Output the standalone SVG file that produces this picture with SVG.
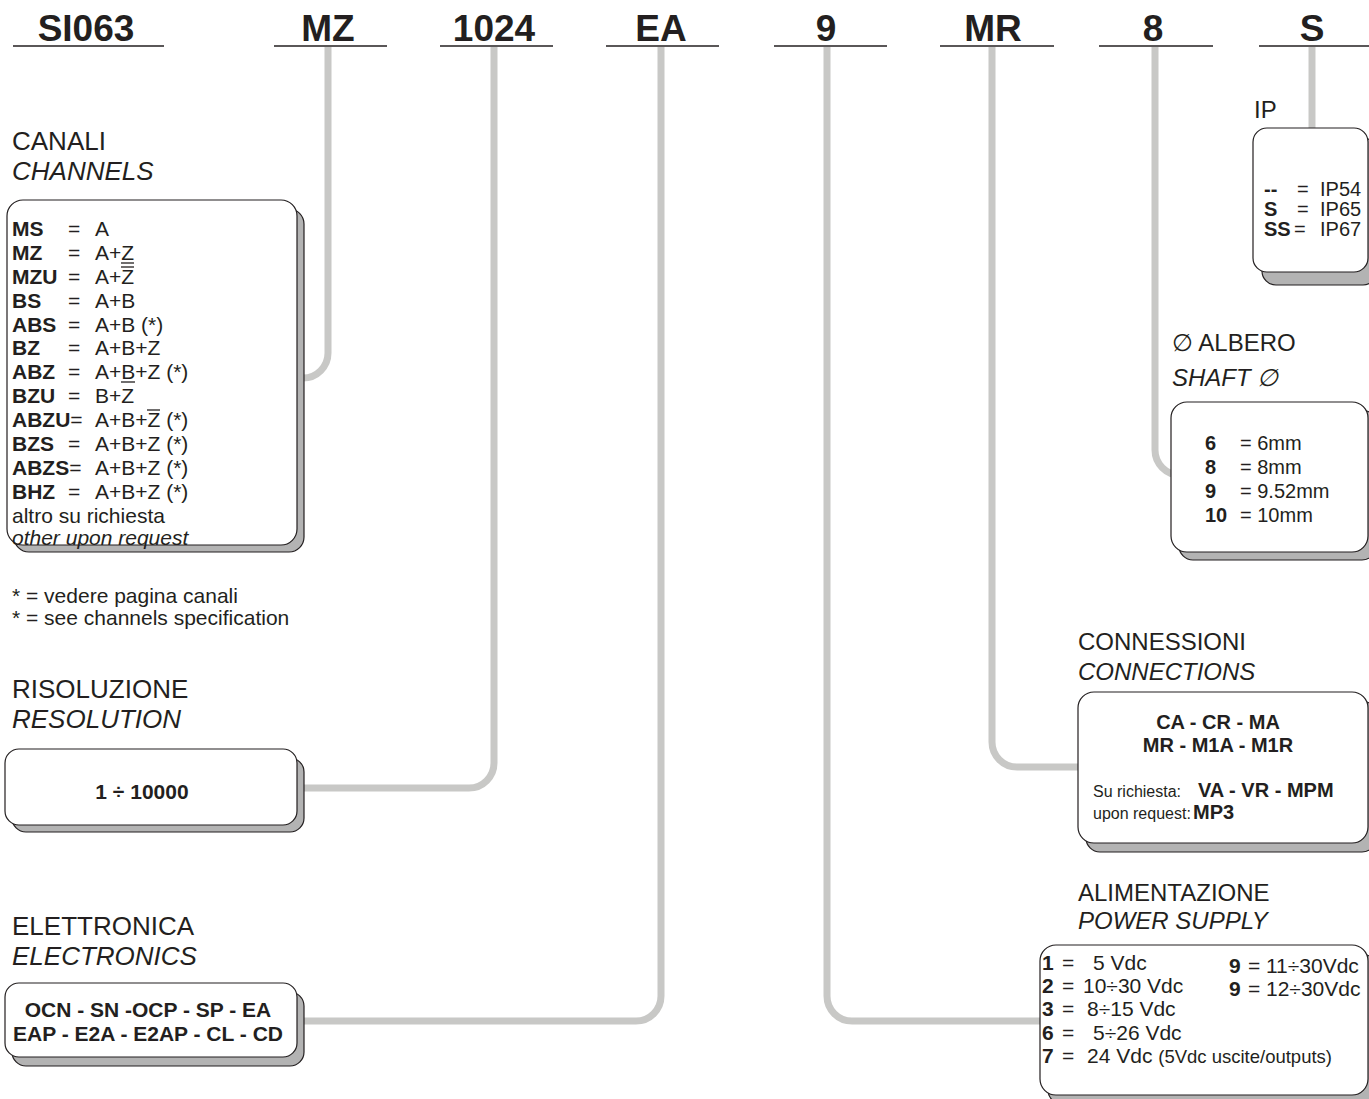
<svg xmlns="http://www.w3.org/2000/svg" width="1369" height="1099" viewBox="0 0 1369 1099">
<style>
text{font-family:"Liberation Sans",Arial,sans-serif;fill:#231f20}
.h{font-size:37px;font-weight:bold;text-anchor:middle}
.hl{stroke:#231f20;stroke-width:1.5}
.lab{font-size:24px}
.labl{font-size:26px}
.it{font-style:italic}
.t{font-size:20px}
.tl{font-size:21px}
.tp{font-size:21px}
.b{font-weight:bold}
.s{font-size:16px}
.sp{font-size:18.5px}
.box{fill:#fff;stroke:#231f20;stroke-width:1.2}
.sh{fill:#b3b3b3;stroke:#231f20;stroke-width:1.2}
.con{fill:none;stroke:#c8c8c6;stroke-width:7}
.dec{stroke:#231f20;stroke-width:1.3}
</style>
<g id="header">
<text class="h" x="86" y="41">SI063</text><line class="hl" x1="13" y1="46" x2="164" y2="46"/>
<text class="h" x="328" y="41">MZ</text><line class="hl" x1="274" y1="46" x2="387" y2="46"/>
<text class="h" x="494" y="41">1024</text><line class="hl" x1="440" y1="46" x2="553" y2="46"/>
<text class="h" x="661" y="41">EA</text><line class="hl" x1="606" y1="46" x2="719" y2="46"/>
<text class="h" x="826" y="41">9</text><line class="hl" x1="774" y1="46" x2="887" y2="46"/>
<text class="h" x="993" y="41">MR</text><line class="hl" x1="940" y1="46" x2="1054" y2="46"/>
<text class="h" x="1153" y="41">8</text><line class="hl" x1="1099" y1="46" x2="1213" y2="46"/>
<text class="h" x="1312" y="41">S</text><line class="hl" x1="1259" y1="46" x2="1369" y2="46"/>
</g>
<g id="connectors">
<path class="con" d="M328 47 V353 A25 25 0 0 1 303 378 H300"/>
<path class="con" d="M494 47 V763 A25 25 0 0 1 469 788 H300"/>
<path class="con" d="M661 47 V996 A25 25 0 0 1 636 1021 H300"/>
<path class="con" d="M827 47 V996 A25 25 0 0 0 852 1021 H1042"/>
<path class="con" d="M992 47 V742 A25 25 0 0 0 1017 767 H1080"/>
<path class="con" d="M1155 47 V450 A25 25 0 0 0 1180 475 H1173"/>
<path class="con" d="M1312 47 V129"/>
</g>
<g id="channels">
<text class="labl" x="12" y="150">CANALI</text>
<text class="labl it" x="12" y="180">CHANNELS</text>
<rect class="sh" x="14" y="209" width="290" height="343" rx="15"/>
<rect class="box" x="7" y="200" width="290" height="345" rx="16"/>
<g class="tl">
<text x="12" y="236"><tspan class="b">MS</tspan></text><text x="68" y="236">=</text><text x="95" y="236">A</text>
<text x="12" y="260"><tspan class="b">MZ</tspan></text><text x="68" y="260">=</text><text x="95" y="260">A+Z</text>
<text x="12" y="284"><tspan class="b">MZU</tspan></text><text x="68" y="284">=</text><text x="95" y="284">A+Z</text>
<text x="12" y="308"><tspan class="b">BS</tspan></text><text x="68" y="308">=</text><text x="95" y="308">A+B</text>
<text x="12" y="332"><tspan class="b">ABS</tspan></text><text x="68" y="332">=</text><text x="95" y="332">A+B (*)</text>
<text x="12" y="355"><tspan class="b">BZ</tspan></text><text x="68" y="355">=</text><text x="95" y="355">A+B+Z</text>
<text x="12" y="379"><tspan class="b">ABZ</tspan></text><text x="68" y="379">=</text><text x="95" y="379">A+B+Z (*)</text>
<text x="12" y="403"><tspan class="b">BZU</tspan></text><text x="68" y="403">=</text><text x="95" y="403">B+Z</text>
<text x="12" y="427"><tspan class="b">ABZU</tspan>=</text><text x="95" y="427">A+B+Z (*)</text>
<text x="12" y="451"><tspan class="b">BZS</tspan></text><text x="68" y="451">=</text><text x="95" y="451">A+B+Z (*)</text>
<text x="12" y="475"><tspan class="b">ABZS</tspan>=</text><text x="95" y="475">A+B+Z (*)</text>
<text x="12" y="499"><tspan class="b">BHZ</tspan></text><text x="68" y="499">=</text><text x="95" y="499">A+B+Z (*)</text>
<text x="12" y="523">altro su richiesta</text>
<text x="12" y="545" class="it">other upon request</text>
</g>
<line class="dec" x1="121" y1="263" x2="134" y2="263"/>
<line class="dec" x1="121" y1="267" x2="134" y2="267"/>
<line class="dec" x1="121" y1="382" x2="135" y2="382"/>
<line class="dec" x1="147" y1="410" x2="160" y2="410"/>
<text class="tl" x="12" y="603">* = vedere pagina canali</text>
<text class="tl" x="12" y="625">* = see channels specification</text>
</g>
<g id="resolution">
<text class="labl" x="12" y="698">RISOLUZIONE</text>
<text class="labl it" x="12" y="728">RESOLUTION</text>
<rect class="sh" x="12" y="758" width="292" height="74" rx="14"/>
<rect class="box" x="5" y="749" width="292" height="76" rx="14"/>
<text class="tl b" x="142" y="799" text-anchor="middle">1 ÷ 10000</text>
</g>
<g id="electronics">
<text class="labl" x="12" y="935">ELETTRONICA</text>
<text class="labl it" x="12" y="965">ELECTRONICS</text>
<rect class="sh" x="12" y="992" width="292" height="74" rx="14"/>
<rect class="box" x="5" y="983" width="292" height="74" rx="14"/>
<text class="b" style="font-size:21px" x="148" y="1017" text-anchor="middle">OCN - SN -OCP - SP - EA</text>
<text class="b" style="font-size:21px" x="148" y="1041" text-anchor="middle">EAP - E2A - E2AP - CL - CD</text>
</g>
<g id="ip">
<text class="lab" x="1254" y="118">IP</text>
<rect class="sh" x="1262" y="138" width="115" height="147" rx="14"/>
<rect class="box" x="1253" y="128" width="115" height="144" rx="14"/>
<g class="t">
<text x="1264" y="196" class="b">--</text><text x="1297" y="196">=</text><text x="1320" y="196">IP54</text>
<text x="1264" y="216" class="b">S</text><text x="1297" y="216">=</text><text x="1320" y="216">IP65</text>
<text x="1264" y="236" class="b">SS</text><text x="1294" y="236">=</text><text x="1320" y="236">IP67</text>
</g>
</g>
<g id="shaft">
<text class="lab" x="1172" y="351">∅ ALBERO</text>
<text class="lab it" x="1172" y="386">SHAFT ∅</text>
<rect class="sh" x="1179" y="410" width="197" height="150" rx="14"/>
<rect class="box" x="1171" y="402" width="197" height="150" rx="16"/>
<g class="t">
<text x="1205" y="450" class="b">6</text><text x="1240" y="450">= 6mm</text>
<text x="1205" y="474" class="b">8</text><text x="1240" y="474">= 8mm</text>
<text x="1205" y="498" class="b">9</text><text x="1240" y="498">= 9.52mm</text>
<text x="1205" y="522" class="b">10</text><text x="1240" y="522">= 10mm</text>
</g>
</g>
<g id="connections">
<text class="lab" x="1078" y="650">CONNESSIONI</text>
<text class="lab it" x="1078" y="680">CONNECTIONS</text>
<rect class="sh" x="1086" y="701" width="290" height="151" rx="14"/>
<rect class="box" x="1078" y="692" width="290" height="151" rx="16"/>
<text class="t b" x="1218" y="729" text-anchor="middle">CA - CR - MA</text>
<text class="t b" x="1218" y="752" text-anchor="middle">MR - M1A - M1R</text>
<text class="s" x="1093" y="797">Su richiesta:</text><text class="t b" x="1198" y="797">VA - VR - MPM</text>
<text class="s" x="1093" y="819">upon request:</text><text class="t b" x="1193" y="819">MP3</text>
</g>
<g id="power">
<text class="lab" x="1078" y="901">ALIMENTAZIONE</text>
<text class="lab it" x="1078" y="929">POWER SUPPLY</text>
<rect class="sh" x="1048" y="954" width="328" height="150" rx="14"/>
<rect class="box" x="1040" y="945" width="328" height="150" rx="16"/>
<g class="tp">
<text x="1042" y="970" class="b">1</text><text x="1062" y="970">=</text><text x="1093" y="970">5 Vdc</text>
<text x="1042" y="993" class="b">2</text><text x="1062" y="993">=</text><text x="1083" y="993">10÷30 Vdc</text>
<text x="1042" y="1016" class="b">3</text><text x="1062" y="1016">=</text><text x="1087" y="1016">8÷15 Vdc</text>
<text x="1042" y="1040" class="b">6</text><text x="1062" y="1040">=</text><text x="1093" y="1040">5÷26 Vdc</text>
<text x="1042" y="1063" class="b">7</text><text x="1062" y="1063">=</text><text x="1087" y="1063">24 Vdc <tspan class="sp">(5Vdc uscite/outputs)</tspan></text>
<text x="1229" y="973" class="b">9</text><text x="1248" y="973">=</text><text x="1266" y="973">11÷30Vdc</text>
<text x="1229" y="996" class="b">9</text><text x="1248" y="996">=</text><text x="1266" y="996">12÷30Vdc</text>
</g>
</g>
</svg>
